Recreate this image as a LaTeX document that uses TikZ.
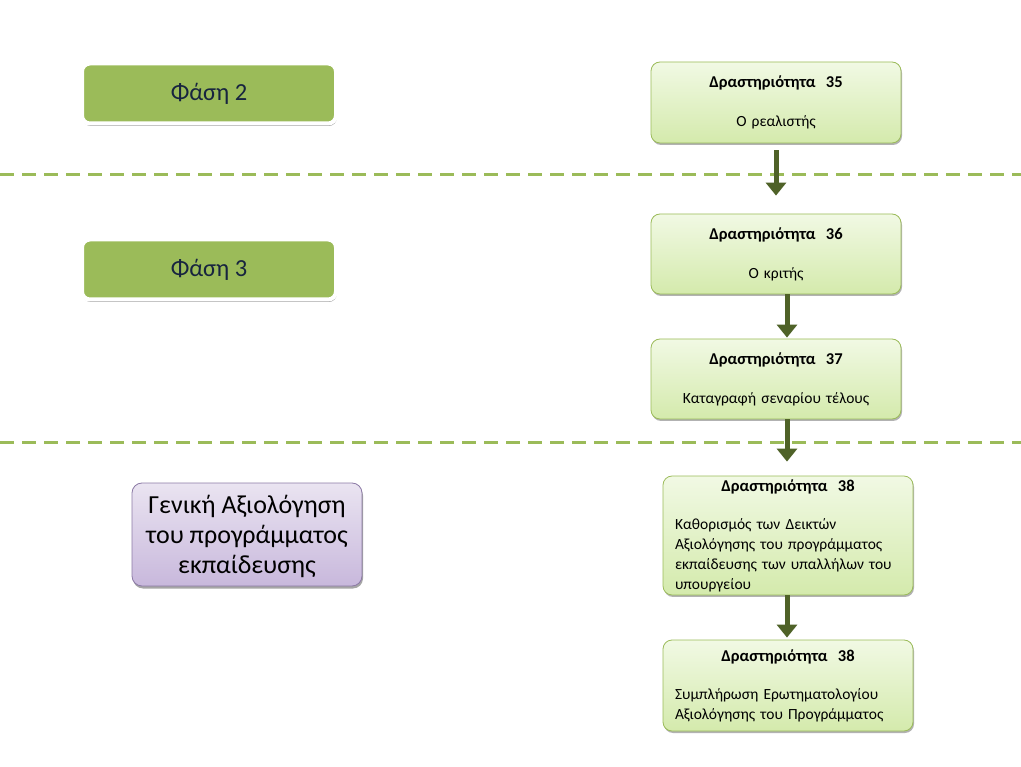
\documentclass[tikz,border=0pt]{standalone}
\usepackage{fontspec}
\setmainfont{Carlito}
\usetikzlibrary{arrows.meta,shadows}
\definecolor{gline}{HTML}{9BBB59}
\definecolor{garrow}{HTML}{4F6228}
\definecolor{gtop}{HTML}{F1F9E4}
\definecolor{gbot}{HTML}{D4EAAC}
\definecolor{ptop}{HTML}{EAE4F1}
\definecolor{pbot}{HTML}{C8B8DC}
\definecolor{pline}{HTML}{8C7AA6}
\definecolor{navy}{HTML}{17243F}
\newcommand{\ttlfont}{\fontsize{16.5}{20}\bfseries\selectfont}
\tikzset{
  phase/.style={rectangle, rounded corners=8pt, draw=white, line width=4pt, fill=gline,
    minimum width=254pt, minimum height=60pt, text=navy,
    font=\fontsize{24.5}{28}\selectfont,
    drop shadow={shadow xshift=0.8pt, shadow yshift=-2.5pt, opacity=0.35, fill=black}},
  act/.style={rectangle, rounded corners=9pt, draw=gline, line width=0.8pt,
    top color=gtop, bottom color=gbot, minimum width=250pt, inner xsep=12pt,
    text width=226pt, align=center, font=\fontsize{15.5}{20}\selectfont,
    drop shadow={shadow xshift=1pt, shadow yshift=-2pt, opacity=0.3, fill=black}},
  purp/.style={rectangle, rounded corners=10pt, draw=pline, line width=0.8pt,
    top color=ptop, bottom color=pbot, minimum width=230pt, minimum height=103pt,
    align=center, font=\fontsize{26}{30}\selectfont,
    drop shadow={shadow xshift=1pt, shadow yshift=-2.5pt, opacity=0.35, fill=black}},
  sep/.style={draw=gline, line width=3pt, dash pattern=on 14pt off 8pt},
  arr/.style={draw=garrow, line width=5pt, -{Triangle[width=20pt,length=13pt]}}
}
\begin{document}
\begin{tikzpicture}[x=1pt,y=-1pt]
\useasboundingbox[fill=white] (0,0) rectangle (1021,767);
% separators
\coordinate (s1a) at (0,175);
\coordinate (s1b) at (1021,175);
\coordinate (s2a) at (0,443);
\coordinate (s2b) at (1021,443);
\draw[sep] (s1a) -- (s1b);
\draw[sep] (s2a) -- (s2b);
% phases
\node[phase] (ph2) at (209,93.5) {Φάση 2};
\node[phase] (ph3) at (209,269.5) {Φάση 3};
\node[purp] (gen) at (247,534.5) {\rule{0pt}{22pt}Γενική Αξιολόγηση\\του προγράμματος\\εκπαίδευσης};
% activities
\node[act, minimum height=81pt] (a35) at (776,102.5)
  {{\ttlfont Δραστηριότητα\ \ 35}\\[19pt]Ο ρεαλιστής};
\node[act, minimum height=80pt] (a36) at (776,254)
  {{\ttlfont Δραστηριότητα\ \ 36}\\[19pt]Ο κριτής};
\node[act, minimum height=80pt] (a37) at (776,379)
  {{\ttlfont Δραστηριότητα\ \ 37}\\[19pt]Καταγραφή σεναρίου τέλους};
\node[act, minimum height=117pt, align=left] (a38) at (788,535.5)
  {\makebox[\linewidth][c]{\ttlfont Δραστηριότητα\ \ 38}\\[18pt]Καθορισμός των Δεικτών\\Αξιολόγησης του προγράμματος\\εκπαίδευσης των υπαλλήλων του\\υπουργείου};
\node[act, minimum height=91pt, align=left] (a39) at (788,685.5)
  {\makebox[\linewidth][c]{\ttlfont Δραστηριότητα\ \ 38}\\[18pt]Συμπλήρωση Ερωτηματολογίου\\Αξιολόγησης του Προγράμματος};
% arrows
\draw[arr, shorten <=7pt, shorten >=18pt] (a35.south) -- (a36.north);
\draw[arr, shorten >=1pt] ([xshift=11pt]a36.south) -- ([xshift=11pt]a37.north);
\draw[arr, shorten >=14pt] ([xshift=11pt]a37.south) -- ([xshift=-1pt]a38.north);
\draw[arr, shorten >=2pt] ([xshift=-1pt]a38.south) -- ([xshift=-1pt]a39.north);
\end{tikzpicture}
\end{document}
